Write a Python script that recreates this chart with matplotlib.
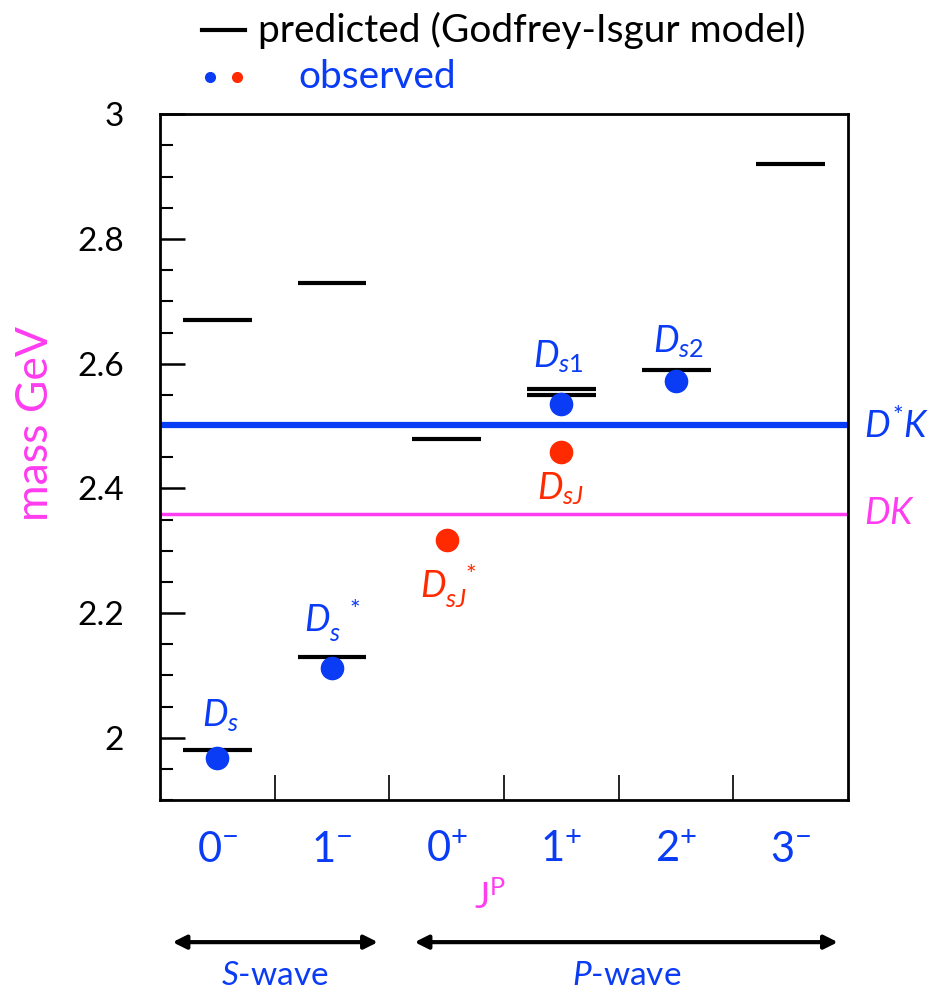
import matplotlib
matplotlib.use('Agg')
import matplotlib.pyplot as plt
from matplotlib.ticker import MultipleLocator, FixedLocator, NullFormatter

plt.rcParams['font.family'] = ['Lato', 'DejaVu Sans']
plt.rcParams['mathtext.fontset'] = 'custom'
plt.rcParams['mathtext.rm'] = 'Lato'
plt.rcParams['mathtext.it'] = 'Lato:italic'
plt.rcParams['mathtext.bf'] = 'Lato:bold'

BLUE = '#0a3cf5'
RED = '#ff2a00'
MAGENTA = '#ff3cf0'

# J^P categories
categories = ['$0^{-}$', '$1^{-}$', '$0^{+}$', '$1^{+}$', '$2^{+}$', '$3^{-}$']

# predicted masses (Godfrey-Isgur), category index and GeV
pred_cat = [0, 0, 1, 1, 2, 3, 3, 4, 5]
pred_mass = [1.98, 2.67, 2.13, 2.73, 2.48, 2.55, 2.56, 2.59, 2.92]

# observed states
obs_cat = [0, 1, 2, 3, 3, 4]
obs_mass = [1.968, 2.112, 2.317, 2.536, 2.459, 2.573]
obs_color = [BLUE, BLUE, RED, BLUE, RED, BLUE]
obs_label = ['$D_s$', '$D_s^{\\ \\ *}$', '$D_{sJ}^{\\ \\ *}$', '$D_{s1}$', '$D_{sJ}$', '$D_{s2}$']
label_dx = [0.03, 0.0, 0.01, -0.03, -0.01, 0.02]
label_dy = [0.068, 0.075, -0.075, 0.075, -0.06, 0.062]

# thresholds
thr_mass = [2.501, 2.359]
thr_label = ['$D^{*}K$', '$DK$']
thr_color = [BLUE, MAGENTA]
thr_width = [4.5, 2.5]

fig = plt.figure(figsize=(9.3, 9.94), dpi=100)
ax = fig.add_axes([0.172, 0.195, 0.74, 0.69])
ax.set_xlim(0, 6)
ax.set_ylim(1.9, 3.0)

for m, lab, c, w in zip(thr_mass, thr_label, thr_color, thr_width):
    ax.axhline(m, color=c, lw=w, zorder=2)
    ax.text(6.14, m, lab, color=c, fontsize=26, va='center', ha='left',
            clip_on=False)

for i, m in zip(pred_cat, pred_mass):
    ax.plot([i + 0.2, i + 0.8], [m, m], color='black', lw=3, zorder=3,
            solid_capstyle='butt')

for i, m, c, lab, dx, dy in zip(obs_cat, obs_mass, obs_color, obs_label,
                                label_dx, label_dy):
    ax.plot(i + 0.5, m, 'o', color=c, ms=16, zorder=4)
    ax.text(i + 0.5 + dx, m + dy, lab, color=c, fontsize=26,
            ha='center', va='center', zorder=5)

for s in ax.spines.values():
    s.set_linewidth(2)

ax.yaxis.set_major_locator(MultipleLocator(0.2))
ax.yaxis.set_minor_locator(MultipleLocator(0.05))
ax.yaxis.set_major_formatter(plt.FuncFormatter(lambda v, p: '%g' % round(v, 2)))
ax.tick_params(axis='y', which='major', direction='in', length=18, width=1.8,
               labelsize=24, pad=26)
ax.tick_params(axis='y', which='minor', direction='in', length=9, width=1.5)

ax.xaxis.set_major_locator(FixedLocator([1, 2, 3, 4, 5]))
ax.xaxis.set_major_formatter(NullFormatter())
ax.xaxis.set_minor_locator(FixedLocator([0.5, 1.5, 2.5, 3.5, 4.5, 5.5]))
ax.set_xticklabels(categories, minor=True)
ax.tick_params(axis='x', which='major', direction='in', length=18, width=1.2)
ax.tick_params(axis='x', which='minor', length=0, labelsize=30, pad=22,
               labelcolor=BLUE)
for t in ax.xaxis.get_major_ticks():
    if t.get_loc() in (2, 4):
        t.tick1line.set_markeredgewidth(2.2)

fig.text(35 / 930, 1 - 423 / 994, 'mass GeV', color=MAGENTA, fontsize=32,
         rotation=90, ha='center', va='center')
fig.text(490 / 930, 1 - 897 / 994, '$\\mathrm{J}^{\\mathrm{P}}$', color=MAGENTA,
         fontsize=26, ha='center', va='center')

# S-wave / P-wave arrows
trans = ax.get_xaxis_transform()
arrow_y = -0.207
for x0, x1, lab in [(0.11, 1.9, '$S$-wave'), (2.22, 5.91, '$P$-wave')]:
    ax.annotate('', xy=(x0, arrow_y), xytext=(x1, arrow_y), xycoords=trans,
                textcoords=trans,
                arrowprops=dict(arrowstyle='<|-|>', color='black', lw=3,
                                mutation_scale=20, shrinkA=0, shrinkB=0))
    ax.text((x0 + x1) / 2, arrow_y - 0.05, lab, transform=trans, color=BLUE,
            fontsize=24, ha='center', va='center')

# legend
fig.lines.append(plt.Line2D([202 / 930, 245 / 930], [1 - 30 / 994, 1 - 30 / 994],
                            transform=fig.transFigure, color='black', lw=3))
fig.text(258 / 930, 1 - 30 / 994, 'predicted (Godfrey-Isgur model)', fontsize=28,
         ha='left', va='center')
fig.lines.append(plt.Line2D([210 / 930], [1 - 77 / 994], transform=fig.transFigure,
                            marker='o', ms=7, color=BLUE, lw=0))
fig.lines.append(plt.Line2D([237 / 930], [1 - 77 / 994], transform=fig.transFigure,
                            marker='o', ms=7, color=RED, lw=0))
fig.text(298 / 930, 1 - 77 / 994, 'observed', fontsize=28, color=BLUE,
         ha='left', va='center')

fig.savefig('out.png', dpi=100)
